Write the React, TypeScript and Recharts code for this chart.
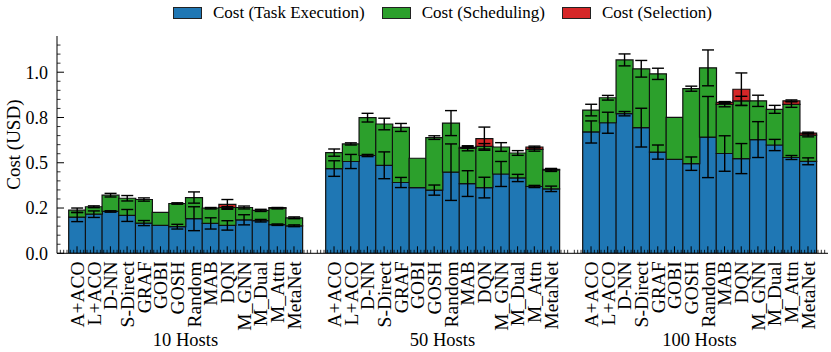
import React from 'react';
import { BarChart, Bar, XAxis, YAxis, ErrorBar } from 'recharts';

// ---------------- data ----------------
const categories = ['A+ACO', 'L+ACO', 'D-NN', 'S-Direct', 'GRAF', 'GOBI', 'GOSH', 'Random', 'MAB', 'DQN', 'M_GNN', 'M_Dual', 'M_Attn', 'MetaNet'];
const panelTitles = ['10 Hosts', '50 Hosts', '100 Hosts'];
const seriesNames = ['Cost (Task Execution)', 'Cost (Scheduling)', 'Cost (Selection)'];
const seriesColors = ['#1f77b4', '#2ca02c', '#d62728'];

// 10 hosts
const exec10 = [0.200, 0.216, 0.231, 0.209, 0.167, 0.154, 0.147, 0.191, 0.165, 0.154, 0.185, 0.180, 0.158, 0.152];
const sched10 = [0.038, 0.041, 0.090, 0.095, 0.130, 0.072, 0.128, 0.117, 0.084, 0.099, 0.068, 0.057, 0.091, 0.044];
const sel10 = [0, 0, 0, 0, 0, 0, 0, 0, 0, 0.017, 0, 0, 0.003, 0];
const execErr10 = [0.025, 0.018, 0.004, 0.033, 0.014, 0, 0.013, 0.066, 0.031, 0.026, 0.028, 0.007, 0.004, 0.005];
const schedErr10 = [0.012, 0.005, 0.010, 0.015, 0.009, 0, 0.004, 0.031, 0.004, 0.005, 0.008, 0.006, 0.004, 0.005];
const selErr10 = [0, 0, 0, 0, 0, 0, 0, 0, 0, 0.027, 0, 0, 0, 0];

// 50 hosts
const exec50 = [0.468, 0.507, 0.540, 0.486, 0.391, 0.363, 0.349, 0.448, 0.385, 0.363, 0.438, 0.416, 0.369, 0.356];
const sched50 = [0.088, 0.097, 0.209, 0.228, 0.304, 0.162, 0.290, 0.271, 0.195, 0.228, 0.149, 0.138, 0.205, 0.104];
const sel50 = [0, 0, 0, 0, 0, 0, 0, 0, 0.005, 0.042, 0, 0, 0.013, 0.004];
const execErr50 = [0.043, 0.039, 0.006, 0.074, 0.028, 0, 0.028, 0.156, 0.071, 0.057, 0.069, 0.020, 0.006, 0.015];
const schedErr50 = [0.020, 0.006, 0.024, 0.032, 0.022, 0, 0.010, 0.069, 0.014, 0.015, 0.024, 0.013, 0.010, 0.008];
const selErr50 = [0, 0, 0, 0, 0, 0, 0, 0, 0.004, 0.064, 0, 0, 0.005, 0.004];

// 100 hosts
const exec100 = [0.670, 0.721, 0.771, 0.694, 0.559, 0.519, 0.495, 0.642, 0.551, 0.523, 0.628, 0.598, 0.529, 0.508];
const sched100 = [0.121, 0.138, 0.297, 0.325, 0.432, 0.232, 0.414, 0.382, 0.271, 0.319, 0.214, 0.197, 0.293, 0.145];
const sel100 = [0, 0, 0, 0, 0, 0, 0, 0, 0.011, 0.064, 0, 0, 0.020, 0.011];
const execErr100 = [0.061, 0.058, 0.012, 0.107, 0.039, 0, 0.037, 0.224, 0.098, 0.083, 0.099, 0.031, 0.011, 0.019];
const schedErr100 = [0.032, 0.013, 0.033, 0.046, 0.031, 0, 0.014, 0.099, 0.013, 0.025, 0.031, 0.022, 0.016, 0.010];
const selErr100 = [0, 0, 0, 0, 0, 0, 0, 0, 0.005, 0.090, 0, 0, 0.005, 0.005];

// y axis ticks
const yTickValues = [0, 0.25, 0.5, 0.75, 1.0];
const yTickLabels = ['0.0', '0.2', '0.5', '0.8', '1.0'];
const Y_MAX = 1.2;
const yMinorTicks = Array.from({ length: 24 }, (_, i) => Math.round(i * 5) / 100);

// ---------------- layout ----------------
const W = 831;
const H = 352;
const FONT = "'Liberation Serif', 'Times New Roman', Times, serif";
const PLOT_TOP = 36;
const PLOT_BOTTOM = 253.3;
const PLOT_LEFTS = [57, 314, 571];
const PLOT_W = 257;
const EDGE = 3;
const UNIT = PLOT_W / (categories.length + 1.4);
const PAD = 0.7 * UNIT;
const MAJOR = 7;
const MINOR = 3.5;
const TICK_FONT = 18;
const CAT_FONT = 19.5;

function buildRows(exec: number[], sched: number[], sel: number[], eErr: number[], sErr: number[], lErr: number[]) {
  return categories.map((name, i) => ({
    name,
    exec: exec[i],
    sched: sched[i],
    sel: sel[i],
    execErr: eErr[i],
    schedErr: sErr[i],
    selErr: lErr[i],
  }));
}

const panelRows = [
  buildRows(exec10, sched10, sel10, execErr10, schedErr10, selErr10),
  buildRows(exec50, sched50, sel50, execErr50, schedErr50, selErr50),
  buildRows(exec100, sched100, sel100, execErr100, schedErr100, selErr100),
];

const majorIndex = (v: number) => yTickValues.findIndex((m) => Math.abs(m - v) < 1e-9);

function minorOffsets(index: number) {
  const offs = [-0.4, -0.2, 0.2, 0.4];
  if (index === 0) offs.push(-1.0, -0.8, -0.6);
  if (index === categories.length - 1) offs.push(0.6, 0.8, 1.0);
  return offs;
}

const makeLeftTick = (showLabel: boolean) => (props: any) => {
  const { x, y, payload } = props;
  const mi = majorIndex(payload.value);
  const len = mi >= 0 ? MAJOR : MINOR;
  return (
    <g>
      <line x1={x} x2={x + len} y1={y} y2={y} stroke="#000" strokeWidth={mi >= 0 ? 1 : 0.8} />
      {showLabel && mi >= 0 && (
        <text x={x - 9} y={y} dy="0.35em" textAnchor="end" fontFamily={FONT} fontSize={TICK_FONT} fill="#000">
          {yTickLabels[mi]}
        </text>
      )}
    </g>
  );
};

const rightTick = (props: any) => {
  const { x, y, payload } = props;
  const mi = majorIndex(payload.value);
  const len = mi >= 0 ? MAJOR : MINOR;
  return <line x1={x - len} x2={x} y1={y} y2={y} stroke="#000" strokeWidth={mi >= 0 ? 1 : 0.8} />;
};

const bottomTick = (props: any) => {
  const { x, y, payload, index } = props;
  const ly = y + 8;
  return (
    <g>
      <line x1={x} x2={x} y1={y} y2={y - MAJOR} stroke="#000" strokeWidth={1} />
      {minorOffsets(index).map((o) => (
        <line key={o} x1={x + o * UNIT} x2={x + o * UNIT} y1={y} y2={y - MINOR} stroke="#000" strokeWidth={0.8} />
      ))}
      <text
        x={x}
        y={ly}
        dy="0.35em"
        textAnchor="end"
        transform={`rotate(-90, ${x}, ${ly})`}
        fontFamily={FONT}
        fontSize={CAT_FONT}
        fill="#000"
      >
        {payload.value}
      </text>
    </g>
  );
};

const topTick = (props: any) => {
  const { x, y, index } = props;
  return (
    <g>
      <line x1={x} x2={x} y1={y} y2={y + MAJOR} stroke="#000" strokeWidth={1} />
      {minorOffsets(index).map((o) => (
        <line key={o} x1={x + o * UNIT} x2={x + o * UNIT} y1={y} y2={y + MINOR} stroke="#000" strokeWidth={0.8} />
      ))}
    </g>
  );
};

const emptyTick = () => <g />;

function Panel({ idx, errorsOnly }: { idx: number; errorsOnly: boolean }) {
  const first = idx === 0;
  const yAxisW = first ? PLOT_LEFTS[0] : 0;
  const chartLeft = PLOT_LEFTS[idx] - yAxisW - EDGE;
  const chartW = yAxisW + PLOT_W + 2 * EDGE;
  const rows = panelRows[idx];
  const axisLine = errorsOnly ? false : { stroke: '#000', strokeWidth: 1 };
  const keys = ['exec', 'sched', 'sel'];
  const errKeys = ['execErr', 'schedErr', 'selErr'];

  const yLabel = (p: any) => {
    const vb = p.viewBox || { x: 0, y: PLOT_TOP, height: PLOT_BOTTOM - PLOT_TOP };
    const cx = vb.x + 13;
    const cy = vb.y + vb.height / 2;
    return (
      <text
        x={cx}
        y={cy}
        dy="0.35em"
        textAnchor="middle"
        transform={`rotate(-90, ${cx}, ${cy})`}
        fontFamily={FONT}
        fontSize={19}
        fill="#000"
      >
        Cost (USD)
      </text>
    );
  };

  return (
    <div style={{ position: 'absolute', left: chartLeft, top: 0 }}>
      <BarChart
        width={chartW}
        height={H}
        data={rows}
        margin={{ top: PLOT_TOP, right: EDGE, bottom: 0, left: EDGE }}
        barCategoryGap={0}
        barGap={0}
      >
        <XAxis
          xAxisId="b"
          dataKey="name"
          type="category"
          height={H - PLOT_BOTTOM}
          padding={{ left: PAD, right: PAD }}
          interval={0}
          tickLine={false}
          tickSize={0}
          tickMargin={0}
          axisLine={axisLine}
          tick={errorsOnly ? emptyTick : bottomTick}
          label={
            errorsOnly
              ? undefined
              : { value: panelTitles[idx], position: 'insideBottom', offset: 6, style: { fontFamily: FONT, fontSize: 18.5, fill: '#000' } }
          }
        />
        <XAxis
          xAxisId="t"
          dataKey="name"
          type="category"
          orientation="top"
          height={0}
          padding={{ left: PAD, right: PAD }}
          interval={0}
          tickLine={false}
          tickSize={0}
          tickMargin={0}
          axisLine={axisLine}
          tick={errorsOnly ? emptyTick : topTick}
        />
        <YAxis
          yAxisId="l"
          type="number"
          domain={[0, Y_MAX]}
          allowDataOverflow
          ticks={yMinorTicks}
          interval={0}
          width={yAxisW}
          tickLine={false}
          tickSize={0}
          tickMargin={0}
          axisLine={axisLine}
          tick={errorsOnly ? emptyTick : makeLeftTick(first)}
          label={first && !errorsOnly ? yLabel : undefined}
        />
        <YAxis
          yAxisId="r"
          orientation="right"
          type="number"
          domain={[0, Y_MAX]}
          allowDataOverflow
          ticks={yMinorTicks}
          interval={0}
          width={0}
          tickLine={false}
          tickSize={0}
          tickMargin={0}
          axisLine={axisLine}
          tick={errorsOnly ? emptyTick : rightTick}
        />
        {keys.map((k, i) => (
          <Bar
            key={k}
            dataKey={k}
            name={seriesNames[i]}
            stackId="a"
            xAxisId="b"
            yAxisId="l"
            fill={errorsOnly ? 'none' : seriesColors[i]}
            stroke={errorsOnly ? 'none' : '#111'}
            strokeWidth={1.2}
            isAnimationActive={false}
          >
            {errorsOnly && (
              <ErrorBar
                dataKey={errKeys[i]}
                direction="y"
                width={6}
                stroke="#000"
                strokeWidth={1.4}
                isAnimationActive={false}
              />
            )}
          </Bar>
        ))}
      </BarChart>
    </div>
  );
}

function Legend() {
  return (
    <div
      style={{
        position: 'absolute',
        left: PLOT_LEFTS[0],
        width: PLOT_LEFTS[2] + PLOT_W - PLOT_LEFTS[0],
        top: 3,
        height: 20,
        display: 'flex',
        justifyContent: 'center',
        alignItems: 'center',
        fontFamily: FONT,
        fontSize: 17,
        color: '#000',
      }}
    >
      {seriesNames.map((n, i) => (
        <div key={n} style={{ display: 'flex', alignItems: 'center', marginRight: i < seriesNames.length - 1 ? 17 : 0 }}>
          <span
            style={{
              display: 'inline-block',
              width: 29,
              height: 12,
              background: seriesColors[i],
              border: '1px solid #222',
              boxSizing: 'border-box',
              marginRight: 11,
            }}
          />
          <span style={{ whiteSpace: 'nowrap' }}>{n}</span>
        </div>
      ))}
    </div>
  );
}

export default function App() {
  return (
    <div style={{ position: 'absolute', left: 0, top: 0, width: W, height: H, background: '#fff', overflow: 'hidden' }}>
      {[0, 1, 2].map((i) => (
        <Panel key={`b${i}`} idx={i} errorsOnly={false} />
      ))}
      {[0, 1, 2].map((i) => (
        <Panel key={`e${i}`} idx={i} errorsOnly={true} />
      ))}
      <Legend />
    </div>
  );
}
